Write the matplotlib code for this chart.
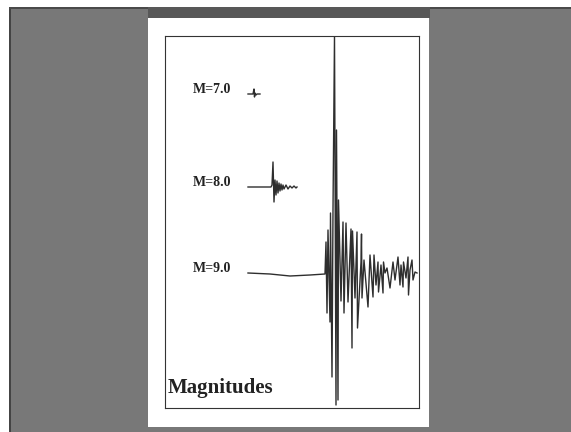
import matplotlib
matplotlib.use("Agg")
import matplotlib.pyplot as plt
from matplotlib.patches import Rectangle

W, H = 571, 432

# Seismogram traces: time (s) and ground motion (arbitrary units, up positive)
labels = ["M=7.0", "M=8.0", "M=9.0"]
offsets = [314, 221, 135]

t_m7 = [83, 88, 89, 89.5, 90, 91, 92, 95]
a_m7 = [0, 0, 5, -3, 1, -1, 0, 0]

t_m8 = [83, 106, 107, 108, 109, 110, 111, 112, 113, 114, 115, 116, 117,
        118, 119, 121, 123, 125, 127, 129, 131, 132]
a_m8 = [0, 0, 2, 25, -15, 7, -8, 6, -6, 4, -4, 3, -3, 2, -2, 2, -2,
        1, -1, 1, -1, 0]

t_m9 = [83, 105, 125, 145, 160, 161, 162, 163, 165, 165.5, 167, 168, 169.5,
        171, 171.5, 173, 173.5, 176, 178, 179, 181, 183, 186, 187, 187.5,
        190, 192, 192.5, 196, 196.5, 197, 199, 203, 205, 208, 209, 211,
        213, 213.5, 216, 218, 218.5, 220, 222, 225, 228, 230, 233, 235,
        236, 238, 238.5, 241, 243, 243.5, 245, 247, 248, 250, 252]
a_m9 = [0, -1, -3, -2, -1, 31, -40, 43, -49, 60, -104, 63, 237, -132, 143,
        -127, 73, -28, 51, -40, 50, -29, 44, -75, 42, -25, 41, -55, 11,
        39, -25, 13, -34, 18, -24, 18, -12, 11, -19, 8, -20, 11, 0, 5,
        -15, 11, -7, 16, -12, 8, -14, 11, -5, 16, -22, 3, 13, -7, 1, 0]

traces = [(t_m7, a_m7), (t_m8, a_m8), (t_m9, a_m9)]

fig = plt.figure(figsize=(W / 100, H / 100), dpi=100)
fig.patch.set_facecolor("white")

# Backdrop: grey board with the white sheet on it
bg = fig.add_axes([0, 0, 1, 1])
bg.set_xlim(0, W)
bg.set_ylim(H, 0)
bg.axis("off")
bg.add_patch(Rectangle((9, 7), W - 9, H - 7, facecolor="#787878", edgecolor="none"))
bg.add_patch(Rectangle((9, 7), 1.5, H - 7, facecolor="#444444", edgecolor="none"))
bg.add_patch(Rectangle((9, 7), W - 9, 2, facecolor="#4a4a4a", edgecolor="none"))
bg.add_patch(Rectangle((148, 7), 282, 11, facecolor="#585858", edgecolor="none"))
bg.add_patch(Rectangle((148, 18), 281, 409, facecolor="white", edgecolor="none"))

# Plot frame
ax = fig.add_axes([165 / W, 1 - 408 / H, (419 - 165) / W, (408 - 36) / H])
ax.set_facecolor("white")
ax.set_xlim(0, 254)
ax.set_ylim(0, 372)
ax.set_xticks([])
ax.set_yticks([])
for s in ax.spines.values():
    s.set_color("#333333")
    s.set_linewidth(0.8)

for lab, off, (t, a) in zip(labels, offsets, traces):
    ax.plot(t, [off + v for v in a], color="#2e2e2e", lw=1.0, clip_on=True)
    ax.text(28, off + 4, lab, fontsize=10, fontweight="bold",
            family="Liberation Serif", color="#222222", va="center", ha="left")

ax.text(3, 15, "Magnitudes", fontsize=15, fontweight="bold",
        family="Liberation Serif", color="#222222", va="baseline", ha="left")

fig.savefig("out.png", dpi=100)
